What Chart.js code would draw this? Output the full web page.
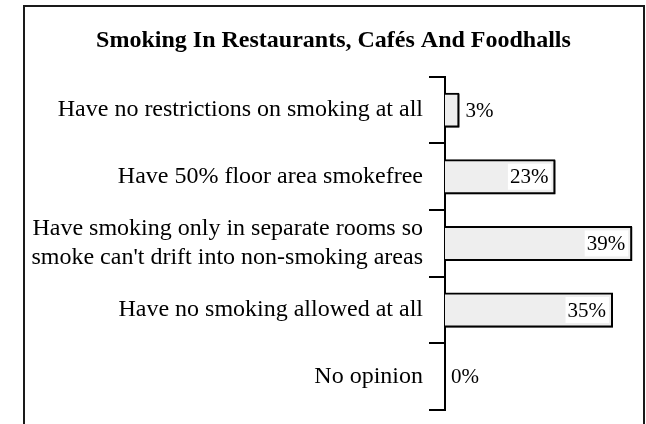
<!DOCTYPE html>
<html>
<head>
<meta charset="utf-8">
<script src="https://cdn.jsdelivr.net/npm/chart.js@4/dist/chart.umd.min.js"></script>
<style>
html,body{margin:0;padding:0;background:#fff;}
#c{display:block;}
</style>
</head>
<body>
<canvas id="c" width="646" height="424"></canvas>
<script>
const titleText = "Smoking In Restaurants, Cafés And Foodhalls";
const categories = [
  "Have no restrictions on smoking at all",
  "Have 50% floor area smokefree",
  ["Have smoking only in separate rooms so", "smoke can't drift into non-smoking areas"],
  "Have no smoking allowed at all",
  "No opinion"
];
const values = [3, 23, 39, 35, 0];
const valueLabels = ["3%", "23%", "39%", "35%", "0%"];
const axisMin = 0;
const axisMax = 40;

const FONT = "'Liberation Serif', 'Times New Roman', serif";

const frame = {
  id: 'frame',
  beforeDraw(chart) {
    const ctx = chart.ctx;
    ctx.save();
    ctx.fillStyle = '#fff';
    ctx.fillRect(0, 0, chart.width, chart.height);
    ctx.strokeStyle = '#1a1a1a';
    ctx.lineWidth = 2;
    ctx.strokeRect(24, 6, 620, 440);
    ctx.restore();
  }
};

const shadow = {
  id: 'shadow',
  beforeDatasetsDraw(chart) {
    const ctx = chart.ctx;
    ctx.save();
    ctx.shadowColor = 'rgba(0,0,0,1)';
    ctx.shadowOffsetX = 1;
    ctx.shadowOffsetY = 1;
    ctx.shadowBlur = 0;
  },
  afterDatasetsDraw(chart) {
    chart.ctx.restore();
  }
};

const valueLabelPlugin = {
  id: 'valueLabels',
  afterDatasetsDraw(chart) {
    const ctx = chart.ctx;
    const meta = chart.getDatasetMeta(0);
    ctx.save();
    ctx.font = "21px " + FONT;
    ctx.textBaseline = 'middle';
    meta.data.forEach((bar, i) => {
      const txt = valueLabels[i];
      const w = ctx.measureText(txt).width;
      const barW = bar.x - bar.base;
      const y = bar.y;
      if (barW > w + 14) {
        const xr = bar.x - 7;
        ctx.fillStyle = '#fff';
        ctx.fillRect(xr - w - 2, y - 13, w + 5, 26);
        ctx.fillStyle = '#000';
        ctx.textAlign = 'right';
        ctx.fillText(txt, xr, y + 1);
      } else {
        ctx.fillStyle = '#000';
        ctx.textAlign = 'left';
        ctx.fillText(txt, bar.x + 6, y + 1);
      }
    });
    ctx.restore();
  }
};

new Chart(document.getElementById('c'), {
  type: 'bar',
  data: {
    labels: categories,
    datasets: [{
      data: values,
      backgroundColor: '#eeeeee',
      borderColor: '#000000',
      borderWidth: 2,
      barPercentage: 0.525,
      categoryPercentage: 1.0
    }]
  },
  options: {
    indexAxis: 'y',
    responsive: false,
    animation: false,
    devicePixelRatio: 1,
    layout: { padding: { left: 30, right: 9, top: 0, bottom: 14 } },
    plugins: {
      legend: { display: false },
      tooltip: { enabled: false },
      title: {
        display: true,
        text: titleText,
        color: '#000',
        font: { family: FONT, size: 24, weight: 'bold', lineHeight: 1.2 },
        padding: { top: 26, bottom: 22 }
      }
    },
    scales: {
      x: {
        display: false,
        min: axisMin,
        max: axisMax
      },
      y: {
        afterFit(scale) {
          scale.width = 415;
          scale.paddingTop = 0;
          scale.paddingBottom = 0;
        },
        grid: {
          offset: true,
          drawOnChartArea: false,
          drawTicks: true,
          tickLength: 16,
          lineWidth: 2,
          color: '#000'
        },
        border: { display: true, color: '#000', width: 2 },
        ticks: {
          color: '#000',
          padding: 6,
          font: { family: FONT, size: 24, lineHeight: 1.2 }
        }
      }
    }
  },
  plugins: [frame, shadow, valueLabelPlugin]
});
</script>
</body>
</html>
